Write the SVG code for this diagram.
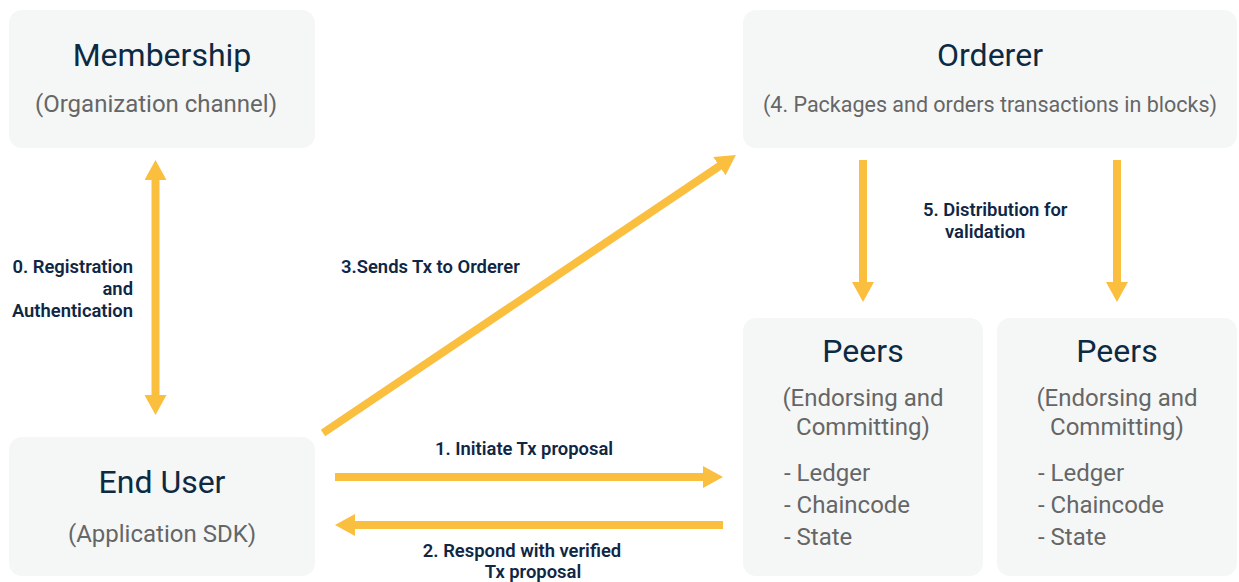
<svg xmlns="http://www.w3.org/2000/svg" width="1239" height="582" viewBox="0 0 1239 582">
<style>
.box{fill:#f5f7f7}
.title{font-family:Roboto,"Liberation Sans",sans-serif;font-size:32px;fill:#0d2a42;text-anchor:middle}
.sub{font-family:Roboto,"Liberation Sans",sans-serif;font-size:24px;fill:#666666;text-anchor:middle}
.item{font-family:Roboto,"Liberation Sans",sans-serif;font-size:24px;fill:#666666}
.lbl{font-family:Roboto,"Liberation Sans",sans-serif;font-size:18.4px;font-weight:600;fill:#0f2744}
.arr{stroke:#fbbf3f;stroke-width:8;fill:none}
</style>
<defs>
<marker id="ah" viewBox="0 0 20 22" markerWidth="20" markerHeight="22" markerUnits="userSpaceOnUse" refX="5" refY="11" orient="auto-start-reverse">
<path d="M0,0 L20,11 L0,22 z" fill="#fbbf3f"/>
</marker>
</defs>
<rect width="1239" height="582" fill="#ffffff"/>
<g id="membership">
<rect class="box" x="9" y="10" width="306" height="138" rx="13"/>
<text class="title" x="162" y="66">Membership</text>
<text class="sub" x="156" y="112">(Organization channel)</text>
</g>
<g id="enduser">
<rect class="box" x="9" y="437" width="306" height="139" rx="13"/>
<text class="title" x="162" y="493">End User</text>
<text class="sub" x="162" y="542">(Application SDK)</text>
</g>
<g id="orderer">
<rect class="box" x="743" y="10" width="494" height="138" rx="13"/>
<text class="title" x="990" y="66">Orderer</text>
<text class="sub" x="990" y="112" style="font-size:21.5px">(4. Packages and orders transactions in blocks)</text>
</g>
<g id="peers1">
<rect class="box" x="743" y="318" width="240" height="258" rx="13"/>
<text class="title" x="863" y="362">Peers</text>
<text class="sub" x="863" y="406">(Endorsing and</text>
<text class="sub" x="863" y="435">Committing)</text>
<text class="item" x="784" y="481">- Ledger</text>
<text class="item" x="784" y="513">- Chaincode</text>
<text class="item" x="784" y="545">- State</text>
</g>
<g id="peers2">
<rect class="box" x="997" y="318" width="240" height="258" rx="13"/>
<text class="title" x="1117" y="362">Peers</text>
<text class="sub" x="1117" y="406">(Endorsing and</text>
<text class="sub" x="1117" y="435">Committing)</text>
<text class="item" x="1038" y="481">- Ledger</text>
<text class="item" x="1038" y="513">- Chaincode</text>
<text class="item" x="1038" y="545">- State</text>
</g>
<g id="connectors">
<line class="arr" x1="155.5" y1="175" x2="155.5" y2="400" marker-start="url(#ah)" marker-end="url(#ah)"/>
<line class="arr" x1="335" y1="477" x2="708" y2="477" marker-end="url(#ah)"/>
<line class="arr" x1="723" y1="525" x2="350" y2="525" marker-end="url(#ah)"/>
<line class="arr" x1="323" y1="433" x2="723.5" y2="163.4" marker-end="url(#ah)"/>
<line class="arr" x1="863" y1="160" x2="863" y2="287" marker-end="url(#ah)"/>
<line class="arr" x1="1117" y1="160" x2="1117" y2="287" marker-end="url(#ah)"/>
<text class="lbl" x="133" y="273" text-anchor="end">0. Registration</text>
<text class="lbl" x="133" y="295" text-anchor="end">and</text>
<text class="lbl" x="133" y="317" text-anchor="end">Authentication</text>
<text class="lbl" x="524" y="455" text-anchor="middle">1. Initiate Tx proposal</text>
<text class="lbl" x="522" y="557" text-anchor="middle">2. Respond with verified</text>
<text class="lbl" x="533" y="578" text-anchor="middle">Tx proposal</text>
<text class="lbl" x="341" y="273">3.Sends Tx to Orderer</text>
<text class="lbl" x="923" y="216">5. Distribution for</text>
<text class="lbl" x="945" y="238">validation</text>
</g>
</svg>
